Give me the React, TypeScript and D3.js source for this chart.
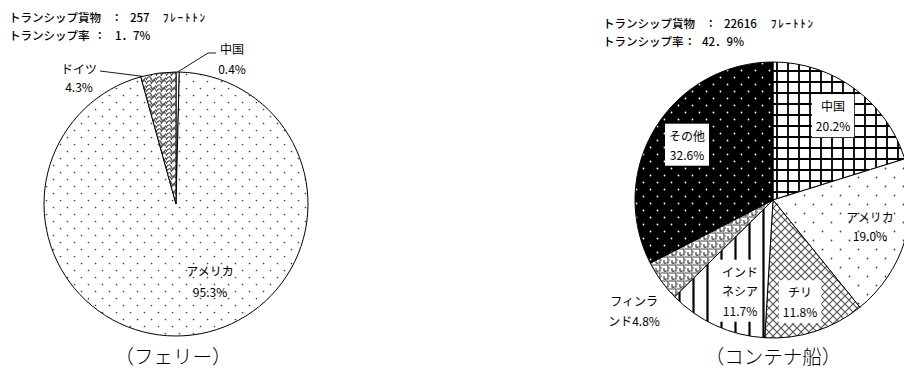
import React, { useEffect, useRef } from "react";
import * as d3 from "d3";

// ---- Data ----
const ferryCategories = ["中国", "アメリカ", "ドイツ"];
const ferryValues = [0.4, 95.3, 4.3];
const ferryCargo = "257";
const ferryRate = "1．7%";
const ferryTitle = "（フェリー）";

const containerCategories = ["中国", "アメリカ", "チリ", "インドネシア", "フィンランド", "その他"];
const containerValues = [20.2, 19.0, 11.8, 11.7, 4.8, 32.6];
const containerCargo = "22616";
const containerRate = "42．9%";
const containerTitle = "（コンテナ船）";

const headerCargoLabel = "トランシップ貨物";
const headerRateLabel = "トランシップ率";
const headerUnit = "ﾌﾚｰﾄﾄﾝ";

const FONT = "'Noto Sans CJK JP', 'Noto Sans', sans-serif";

type LabelSpec = { lines: string[]; dx: number; dy: number; lh: number; box?: boolean; leader?: number[][] };

export default function App() {
  const ref = useRef<SVGSVGElement | null>(null);

  useEffect(() => {
    const svg = d3.select(ref.current);
    svg.selectAll("*").remove();
    const defs = svg.append("defs");

    const dots = (id: string, s: number, r: number, bg: string, fg: string) => {
      const p = defs.append("pattern").attr("id", id).attr("patternUnits", "userSpaceOnUse").attr("width", s).attr("height", s);
      p.append("rect").attr("width", s).attr("height", s).attr("fill", bg);
      p.append("circle").attr("cx", s / 4).attr("cy", s / 4).attr("r", r).attr("fill", fg);
      p.append("circle").attr("cx", (3 * s) / 4).attr("cy", (3 * s) / 4).attr("r", r).attr("fill", fg);
    };
    dots("dotsFerry", 14, 0.85, "#fff", "#444");
    dots("dotsUS", 18, 0.9, "#fff", "#444");
    dots("dotsOther", 14, 0.9, "#000", "#fff");

    const gs = 11;
    const grid = defs.append("pattern").attr("id", "grid").attr("patternUnits", "userSpaceOnUse").attr("width", gs).attr("height", gs).attr("x", 773).attr("y", 200);
    grid.append("rect").attr("width", gs).attr("height", gs).attr("fill", "#fff");
    grid.append("path").attr("d", `M1,0V${gs}M0,1H${gs}`).attr("stroke", "#000").attr("stroke-width", 1.8);

    const cross = defs.append("pattern").attr("id", "cross").attr("patternUnits", "userSpaceOnUse").attr("width", 8).attr("height", 8);
    cross.append("rect").attr("width", 8).attr("height", 8).attr("fill", "#fff");
    cross.append("path").attr("d", "M0,0L8,8M8,0L0,8").attr("stroke", "#555").attr("stroke-width", 1.2);

    const vlines = defs.append("pattern").attr("id", "vlines").attr("patternUnits", "userSpaceOnUse").attr("width", 14).attr("height", 14).attr("x", 773);
    vlines.append("rect").attr("width", 14).attr("height", 14).attr("fill", "#fff");
    vlines.append("path").attr("d", "M1.5,0V14").attr("stroke", "#000").attr("stroke-width", 2.2);

    const key = defs.append("pattern").attr("id", "key").attr("patternUnits", "userSpaceOnUse").attr("width", 8).attr("height", 8);
    key.append("rect").attr("width", 8).attr("height", 8).attr("fill", "#fff");
    key.append("path").attr("d", "M0,1H7V7H3V4M0,4H1M4,8V7").attr("fill", "none").attr("stroke", "#444").attr("stroke-width", 1.2);

    const scale = defs.append("pattern").attr("id", "scale").attr("patternUnits", "userSpaceOnUse").attr("width", 10).attr("height", 8);
    scale.append("rect").attr("width", 10).attr("height", 8).attr("fill", "#fff");
    scale.append("path").attr("d", "M0,4C2,0 5,0 5,2.5C5,5 8,5 10,1.5M0,8C2,4 5,4 5,6.5M5,8C7,4 10,4 10,6.5").attr("fill", "none").attr("stroke", "#333").attr("stroke-width", 1.1);

    const pie = d3.pie<number>().sort(null).value((d) => d);

    const drawPie = (
      cx: number,
      cy: number,
      r: number,
      vals: number[],
      fills: string[],
      labels: LabelSpec[],
    ) => {
      const g = svg.append("g").attr("transform", `translate(${cx},${cy})`);
      const arcs = pie(vals);
      const arc = d3.arc<d3.PieArcDatum<number>>().innerRadius(0).outerRadius(r);
      g.selectAll("path.slice")
        .data(arcs)
        .join("path")
        .attr("class", "slice")
        .attr("d", arc as any)
        .attr("fill", (_d, i) => fills[i])
        .attr("stroke", "#000")
        .attr("stroke-width", 1);

      labels.forEach((lab, i) => {
        if (lab.leader) {
          const a = arcs[i];
          const ang = a.startAngle + (a.endAngle - a.startAngle) * lab.leader[0][0];
          const px = r * Math.sin(ang);
          const py = -r * Math.cos(ang);
          const pts = lab.leader.slice(1).map((p) => [p[0], p[1]]);
          pts.push([px, py]);
          g.append("path")
            .attr("d", d3.line()(pts as [number, number][]) as string)
            .attr("fill", "none")
            .attr("stroke", "#000")
            .attr("stroke-width", 0.9);
        }
        const lg = g.append("g").attr("transform", `translate(${lab.dx},${lab.dy})`);
        const n = lab.lines.length;
        const t = lg
          .append("text")
          .attr("font-family", FONT)
          .attr("font-size", 12)
          .attr("text-anchor", "middle")
          .attr("fill", "#000");
        lab.lines.forEach((ln, k) => {
          t.append("tspan")
            .attr("x", 0)
            .attr("y", (k - (n - 1) / 2) * lab.lh)
            .attr("dy", "0.35em")
            .text(ln);
        });
        if (lab.box) {
          const bb = (t.node() as SVGTextElement).getBBox();
          lg.insert("rect", "text")
            .attr("x", bb.x - 4)
            .attr("y", bb.y - 3)
            .attr("width", bb.width + 8)
            .attr("height", bb.height + 6)
            .attr("fill", "#fff");
        }
      });
    };

    // ferry
    drawPie(
      176,
      204,
      132,
      ferryValues,
      ["#fff", "url(#dotsFerry)", "url(#scale)"],
      [
        { lines: [ferryCategories[0], ferryValues[0].toFixed(1) + "%"], dx: 56, dy: -144, lh: 20, leader: [[0.5], [40, -151], [32, -151]] },
        { lines: [ferryCategories[1], ferryValues[1].toFixed(1) + "%"], dx: 34, dy: 78, lh: 21 },
        { lines: [ferryCategories[2], ferryValues[2].toFixed(1) + "%"], dx: -97, dy: -125, lh: 18, leader: [[0.05], [-76, -133]] },
      ],
    );

    // container
    drawPie(
      773,
      200,
      138,
      containerValues,
      ["url(#grid)", "url(#dotsUS)", "url(#cross)", "url(#vlines)", "url(#key)", "url(#dotsOther)"],
      [
        { lines: [containerCategories[0], containerValues[0].toFixed(1) + "%"], dx: 60, dy: -83, lh: 20, box: true },
        { lines: [containerCategories[1], containerValues[1].toFixed(1) + "%"], dx: 97, dy: 27, lh: 19 },
        { lines: ["チリ", containerValues[2].toFixed(1) + "%"], dx: 27, dy: 103, lh: 20, box: true },
        { lines: ["インド", "ネシア", containerValues[3].toFixed(1) + "%"], dx: -33, dy: 92, lh: 19.5, box: true },
        { lines: ["フィンラ", "ンド" + containerValues[4].toFixed(1) + "%"], dx: -139, dy: 112, lh: 20 },
        { lines: [containerCategories[5], containerValues[5].toFixed(1) + "%"], dx: -86, dy: -54, lh: 19, box: true },
      ],
    );

    // headers
    const mk = (x: number, y: number) =>
      svg.append("text").attr("font-family", FONT).attr("font-size", 11.5).attr("font-weight", 500).attr("fill", "#000").attr("x", x).attr("y", y);
    const header = (
      x: number,
      y: number,
      cargo: string,
      rate: string,
      c1: number,
      n1: number,
      u1: number,
      c2: number,
      n2: number,
    ) => {
      const t1 = mk(x, y);
      t1.append("tspan").text(headerCargoLabel);
      t1.append("tspan").attr("x", x + c1).text("：");
      t1.append("tspan").attr("x", x + n1).text(cargo);
      svg
        .append("text")
        .attr("font-family", FONT)
        .attr("font-size", 11)
        .attr("font-weight", 500)
        .attr("letter-spacing", 1.8)
        .attr("x", x + u1)
        .attr("y", y)
        .text(headerUnit);
      const t2 = mk(x, y + 17.5);
      t2.append("tspan").text(headerRateLabel);
      t2.append("tspan").attr("x", x + c2).text("：");
      t2.append("tspan").attr("x", x + n2).text(rate);
    };
    header(9, 22, ferryCargo, ferryRate, 102, 121, 154, 85, 106);
    header(603, 28, containerCargo, containerRate, 102, 121, 168, 81, 99);

    // titles
    const title = (x: number, txt: string) =>
      svg
        .append("text")
        .attr("x", x)
        .attr("y", 364)
        .attr("text-anchor", "middle")
        .attr("font-family", "'Noto Sans CJK JP', serif")
        .attr("font-weight", 300)
        .attr("font-size", 19.5)
        .text(txt);
    title(173, ferryTitle);
    title(773, containerTitle);
  }, []);

  return (
    <svg
      ref={ref}
      width={904}
      height={372}
      style={{ position: "absolute", left: 0, top: 0, background: "#fff" }}
    />
  );
}
